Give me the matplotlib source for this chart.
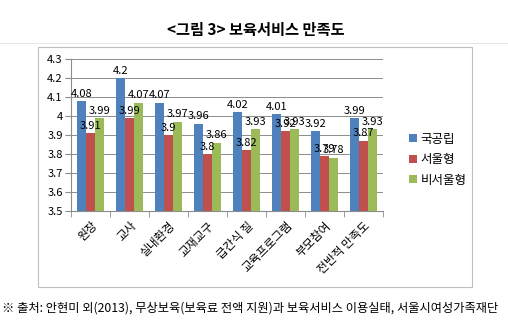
import numpy as np
import matplotlib.pyplot as plt
from matplotlib.patches import Rectangle

plt.rcParams['font.family'] = ['Noto Sans CJK KR', 'DejaVu Sans']

categories = ['원장', '교사', '실내환경', '교재교구', '급간식 질', '교육프로그램', '부모참여', '전반적 만족도']
series_names = ['국공립', '서울형', '비서울형']
national = [4.08, 4.2, 4.07, 3.96, 4.02, 4.01, 3.92, 3.99]
seoul = [3.91, 3.99, 3.9, 3.8, 3.82, 3.92, 3.79, 3.87]
non_seoul = [3.99, 4.07, 3.97, 3.86, 3.93, 3.93, 3.78, 3.93]
yticks = [3.5, 3.6, 3.7, 3.8, 3.9, 4.0, 4.1, 4.2, 4.3]
ytick_labels = ['3.5', '3.6', '3.7', '3.8', '3.9', '4', '4.1', '4.2', '4.3']

colors = ['#4F81BD', '#C0504D', '#9BBB59']

fig = plt.figure(figsize=(5.08, 3.26), dpi=100)
fig.patch.set_facecolor('white')

# chart frame
fig.patches.append(Rectangle((0.075, 0.12), 0.854, 0.736, transform=fig.transFigure,
                             fill=False, edgecolor='#BFBFBF', linewidth=0.8))

ax = fig.add_axes([0.14, 0.353, 0.614, 0.466])

x = np.arange(len(categories))
w = 0.23
for i, (vals, name) in enumerate(zip([national, seoul, non_seoul], series_names)):
    pos = x + (i - 1) * w
    ax.bar(pos, [v - 3.5 for v in vals], w, bottom=3.5, color=colors[i], label=name, zorder=3)
    for p, v in zip(pos, vals):
        ax.text(p, v + 0.012, f'{v:g}', ha='center', va='bottom', fontsize=8, zorder=4)

ax.set_ylim(3.5, 4.3)
ax.set_xlim(-0.5, len(categories) - 0.5)
ax.set_yticks(yticks)
ax.set_yticklabels(ytick_labels, fontsize=8)
ax.yaxis.grid(True, color='#8C8C8C', linewidth=0.7, zorder=0)

ax.set_xticks(x)
ax.set_xticklabels(categories, rotation=45, ha='right', rotation_mode='anchor', fontsize=8.5)
ax.tick_params(axis='x', which='major', length=0, pad=6)
ax.set_xticks(np.arange(-0.5, len(categories), 1), minor=True)
ax.tick_params(axis='x', which='minor', length=4, color='#8C8C8C')
ax.tick_params(axis='y', length=4, color='#8C8C8C', pad=2)

for s in ['top', 'right']:
    ax.spines[s].set_visible(False)
for s in ['left', 'bottom']:
    ax.spines[s].set_color('#8C8C8C')

ax.legend(loc='center left', bbox_to_anchor=(0.783, 0.51), bbox_transform=fig.transFigure,
          frameon=False, fontsize=9, handlelength=0.6, handleheight=0.6,
          handletextpad=0.3, labelspacing=0.6)

fig.text(0.503, 0.908, '<그림 3> 보육서비스 만족도', ha='center', va='center',
         fontsize=11, fontweight='bold')
fig.lines.append(plt.Line2D([0.0, 1.0], [0.868, 0.868], transform=fig.transFigure,
                            color='#E0E0E0', linewidth=0.6))
fig.text(0.004, 0.055, '※ 출처: 안현미 외(2013), 무상보육(보육료 전액 지원)과 보육서비스 이용실태, 서울시여성가족재단',
         ha='left', va='center', fontsize=8.8)

fig.savefig('out.png', dpi=100)
